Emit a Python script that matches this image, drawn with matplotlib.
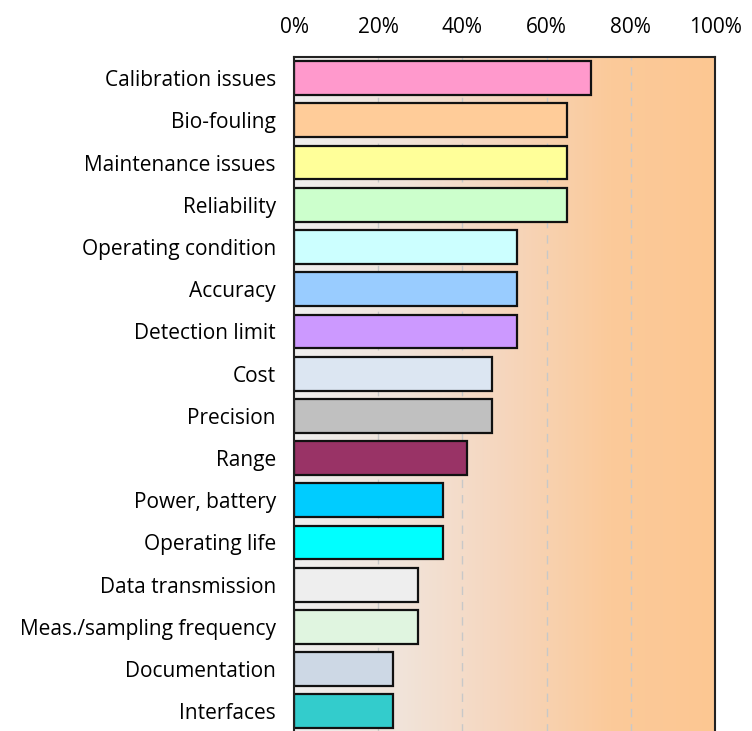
import numpy as np
import matplotlib.pyplot as plt
from matplotlib.colors import LinearSegmentedColormap
from matplotlib.ticker import PercentFormatter

categories = ['Calibration issues', 'Bio-fouling', 'Maintenance issues', 'Reliability',
              'Operating condition', 'Accuracy', 'Detection limit', 'Cost', 'Precision',
              'Range', 'Power, battery', 'Operating life', 'Data transmission',
              'Meas./sampling frequency', 'Documentation', 'Interfaces']
counts = [12, 11, 11, 11, 9, 9, 9, 8, 8, 7, 6, 6, 5, 5, 4, 4]
total = 17
shares = [100 * c / total for c in counts]
colors = ['#ff99cc', '#ffcc99', '#ffff99', '#ccffcc', '#ccffff', '#99ccff', '#cc99ff',
          '#dce6f2', '#c0c0c0', '#993366', '#00ccff', '#00ffff', '#eeeeee',
          '#e0f5e0', '#cdd8e5', '#33cccc']
xticks = [0, 20, 40, 60, 80, 100]

plt.rcParams['font.family'] = ['Open Sans', 'DejaVu Sans']

fig = plt.figure(figsize=(7.52, 7.31), dpi=100)
ax = fig.add_axes([0.391, -0.002, 0.56, 0.924])

n = len(categories)
ypos = np.arange(n)

# background gradient
grad = LinearSegmentedColormap.from_list('bg', ['#efefef', '#f1e4da', '#f6d6bd', '#fbca9a', '#fdc792'])
ax.imshow(np.linspace(0, 1, 256).reshape(1, -1), cmap=grad, aspect='auto',
          extent=[0, 100, n - 0.5, -0.5], zorder=0)

for x in xticks[1:-1]:
    ax.axvline(x, color='#c8c8c8', lw=1, ls=(0, (6, 5)), zorder=1)

ax.barh(ypos, shares, height=0.8, color=colors, edgecolor='#111111', linewidth=1.6, zorder=2)

ax.set_xlim(0, 100)
ax.set_ylim(n - 0.5, -0.5)
ax.xaxis.tick_top()
ax.set_xticks(xticks)
ax.xaxis.set_major_formatter(PercentFormatter(decimals=0))
ax.tick_params(axis='x', length=0, pad=14, labelsize=15)
ax.set_yticks(ypos)
ax.set_yticklabels(categories, fontsize=15)
ax.tick_params(axis='y', length=0, pad=13)
ax.set_yticks(ypos[:-1] + 0.5 - 0.12, minor=True)
ax.tick_params(axis='y', which='minor', direction='in', length=6, width=1.5, color='#333333')

for s in ['top', 'right', 'left']:
    ax.spines[s].set_color('#222222')
    ax.spines[s].set_linewidth(1.5)
ax.spines['bottom'].set_visible(False)

fig.savefig('out.png', dpi=100)
